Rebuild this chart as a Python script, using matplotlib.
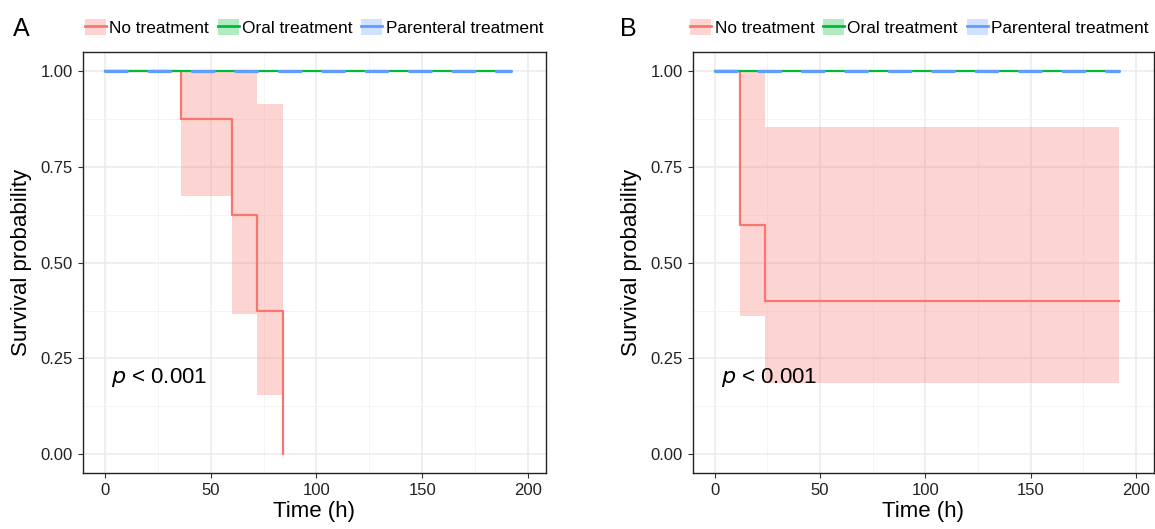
import matplotlib
matplotlib.use('Agg')
import matplotlib.pyplot as plt
from matplotlib.lines import Line2D
from matplotlib.patches import Patch
from matplotlib.ticker import MultipleLocator

plt.rcParams['font.family'] = ['Liberation Sans', 'DejaVu Sans']

RED = '#F8766D'
GREEN = '#00BA38'
BLUE = '#619CFF'

groups = ['No treatment', 'Oral treatment', 'Parenteral treatment']
p_text = '< 0.001'

# panel A: Kaplan-Meier for untreated group
a_time = [0, 36, 60, 72, 84]
a_surv = [1.0, 0.875, 0.625, 0.375, 0.0]
a_lower = [1.0, 0.675, 0.365, 0.155, 0.155]
a_upper = [1.0, 1.0, 1.0, 0.915, 0.915]

# panel B
b_time = [0, 12, 24, 192]
b_surv = [1.0, 0.6, 0.4, 0.4]
b_lower = [1.0, 0.36, 0.185, 0.185]
b_upper = [1.0, 1.0, 0.855, 0.855]

# treated groups never die
treated_time = [0, 192]
treated_surv = [1.0, 1.0]

fig = plt.figure(figsize=(11.55, 5.29), dpi=100)
axA = fig.add_axes([0.0716, 0.1053, 0.4011, 0.7958])
axB = fig.add_axes([0.5997, 0.1053, 0.3994, 0.7958])


def draw(ax, t, s, lo, hi):
    ax.fill_between(t, lo, hi, step='post', color=RED, alpha=0.3, lw=0, zorder=2)
    ax.step(t, s, where='post', color=RED, lw=1.6, zorder=3)
    ax.plot(treated_time, treated_surv, color=GREEN, lw=1.6, zorder=4,
            solid_capstyle='round')
    ax.plot(treated_time, treated_surv, color=BLUE, lw=2.3, zorder=5,
            dashes=(6.8, 6.8), dash_capstyle='round')
    ax.text(3, 0.2, r'$\it{p}$ ' + p_text, fontsize=16, ha='left', va='center',
            zorder=6)

    ax.set_xlim(-10.5, 208.5)
    ax.set_ylim(-0.05, 1.05)
    ax.xaxis.set_major_locator(MultipleLocator(50))
    ax.xaxis.set_minor_locator(MultipleLocator(25))
    ax.yaxis.set_major_locator(MultipleLocator(0.25))
    ax.yaxis.set_minor_locator(MultipleLocator(0.125))
    ax.yaxis.set_major_formatter(matplotlib.ticker.FormatStrFormatter('%.2f'))
    ax.grid(which='major', color='#EBEBEB', lw=1.1, zorder=0)
    ax.grid(which='minor', color='#F2F2F2', lw=0.6, zorder=0)
    ax.set_axisbelow(True)
    ax.tick_params(which='major', length=3.5, width=0.8, color='#333333',
                   labelsize=12, labelcolor='#222222')
    ax.tick_params(which='minor', length=0)
    for sp in ax.spines.values():
        sp.set_color('#222222')
        sp.set_linewidth(1.0)
    ax.set_xlabel('Time (h)', fontsize=16, labelpad=2)
    ax.set_ylabel('Survival probability', fontsize=16, labelpad=6)


draw(axA, a_time, a_surv, a_lower, a_upper)
draw(axB, b_time, b_surv, b_lower, b_upper)

handles = []
for c in [RED, GREEN, BLUE]:
    handles.append((Patch(facecolor=c, alpha=0.3, edgecolor='none'),
                    Line2D([], [], color=c, lw=2)))

for cx, lab, lx in [(0.272, 'A', 0.011), (0.796, 'B', 0.537)]:
    fig.legend(handles, groups, loc='center', bbox_to_anchor=(cx, 0.948),
               ncol=3, frameon=False, fontsize=12.4, handlelength=1.22,
               handleheight=1.0, handletextpad=0.2, columnspacing=0.5,
               borderaxespad=0, borderpad=0)
    fig.text(lx, 0.945, lab, fontsize=18, ha='left', va='center')

fig.savefig('out.png', dpi=100)
